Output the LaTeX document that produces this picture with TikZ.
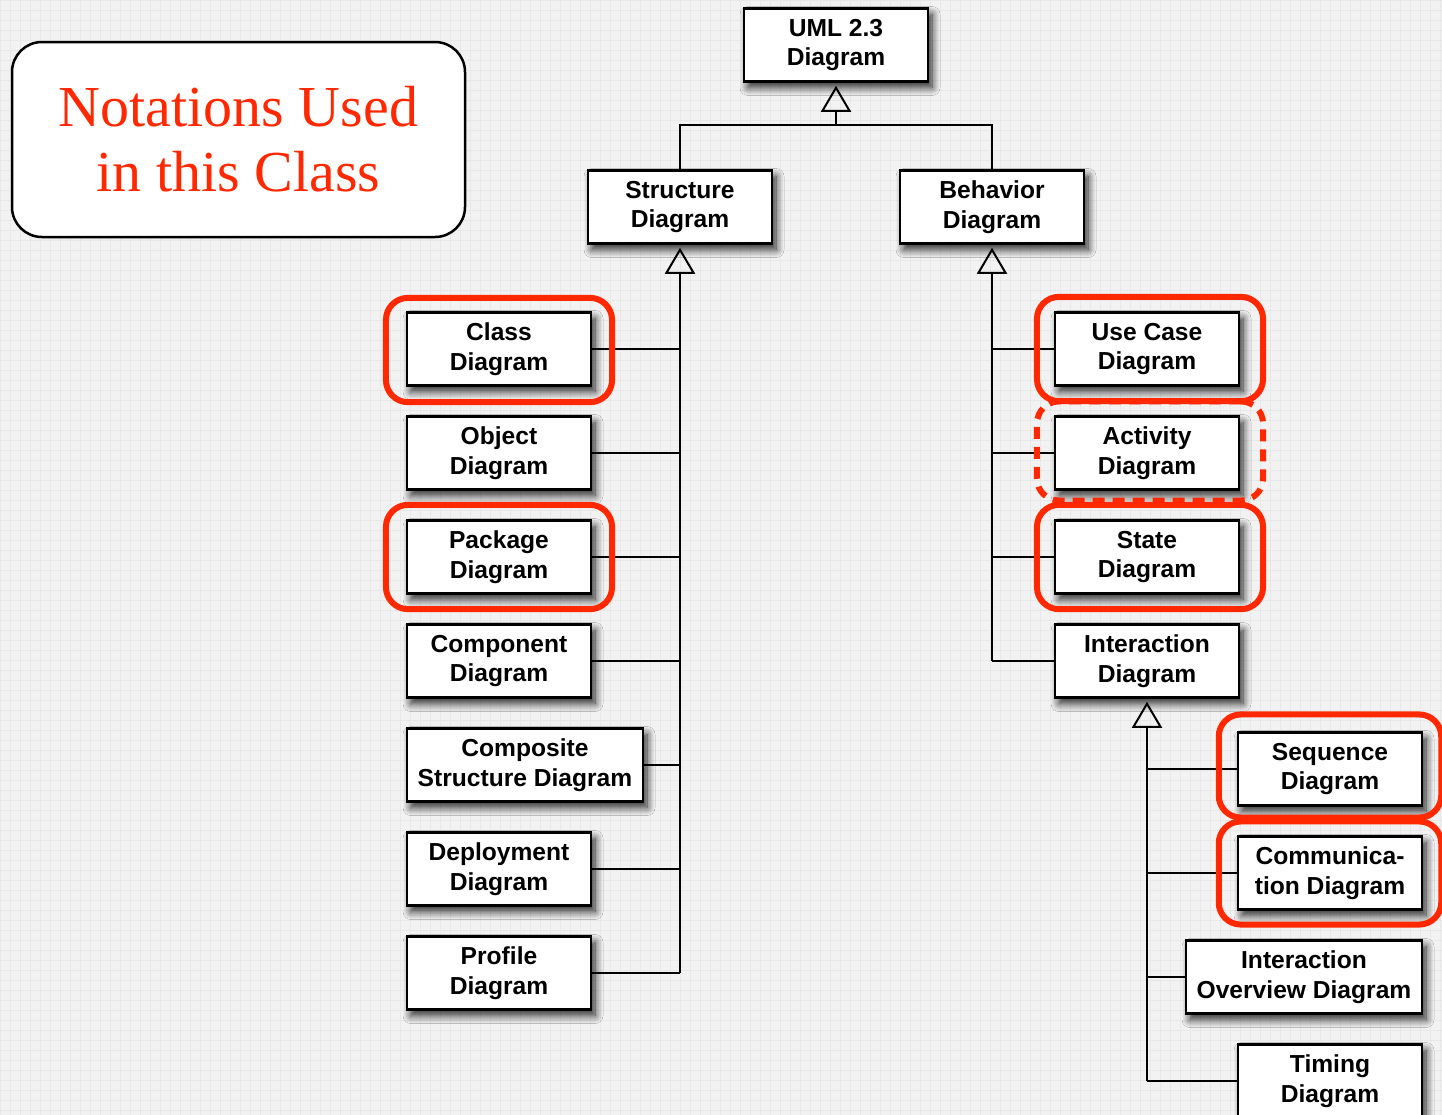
\documentclass[tikz,border=0pt]{standalone}
\usepackage{fontspec}
\setmainfont{Liberation Sans}
\newfontfamily\notefont{Liberation Serif}
\usetikzlibrary{arrows.meta,shadows.blur,fit}
\definecolor{hlred}{RGB}{255,40,0}
\definecolor{paper}{RGB}{242,242,242}
\definecolor{gridc}{RGB}{232,232,232}

\begin{document}
\begin{tikzpicture}[x=0.5pt,y=-0.5pt,
  diag/.style={draw=black, line width=1.25pt, fill=white,
    minimum width=92pt, minimum height=36.5pt, inner sep=0pt, align=center,
    font=\fontsize{12.3pt}{14.8pt}\bfseries\selectfont,
    blur shadow={shadow xshift=2pt, shadow yshift=-3pt,
      shadow blur radius=4pt, shadow blur steps=10, shadow opacity=85}},
  widediag/.style={diag, minimum width=118pt},
  trunk/.style={line width=1.25pt, shorten >=1.5pt,
    -{Triangle[open, width=15pt, length=13pt, line width=1pt]}},
  branch/.style={line width=0.9pt},
  joint/.style={line width=1pt},
  hl/.style={draw=hlred, line width=3pt, rounded corners=11pt, inner xsep=9.9pt},
  hldash/.style={hl, dash pattern=on 6pt off 4pt}
]
% paper with a faint grid
\useasboundingbox (0,0) rectangle (1442,1115);
\clip (0,0) rectangle (1442,1115);
\fill[paper] (0,0) rectangle (1442,1115);
\foreach \gx in {0,10,...,1440} \draw[gridc, line width=0.35pt] (\gx,0) -- (\gx,1115);
\foreach \gy in {0,10,...,1110} \draw[gridc, line width=0.35pt] (0,\gy) -- (1442,\gy);

% legend box
\node[draw=black, line width=1.25pt, rounded corners=15pt, fill=white,
  minimum width=226.5pt, minimum height=97.5pt, inner sep=0pt, align=center,
  text=hlred, font=\notefont\fontsize{29pt}{32.5pt}\selectfont]
  (note) at (238.5,139.5) {Notations Used\\in this Class};

% top levels
\node[diag] (uml) at (836,45) {UML 2.3\\Diagram};
\node[diag] (sd) at (680,207) {Structure\\Diagram};
\node[diag] (bd) at (992,207) {Behavior\\Diagram};

% structure diagrams
\node[diag] (cls) at (499,349) {Class\\Diagram};
\node[diag] (obj) at (499,453) {Object\\Diagram};
\node[diag] (pkg) at (499,557) {Package\\Diagram};
\node[diag] (cmp) at (499,661) {Component\\Diagram};
\node[widediag] (cps) at (525,765) {Composite\\Structure Diagram};
\node[diag] (dep) at (499,869) {Deployment\\Diagram};
\node[diag] (prof) at (499,973) {Profile\\Diagram};

% behavior diagrams
\node[diag] (uc) at (1147,349) {Use Case\\Diagram};
\node[diag] (act) at (1147,453) {Activity\\Diagram};
\node[diag] (st) at (1147,557) {State\\Diagram};
\node[diag] (id) at (1147,661) {Interaction\\Diagram};

% interaction diagrams
\node[diag] (seq) at (1330,769) {Sequence\\Diagram};
\node[diag] (comm) at (1330,873) {Communica-\\tion Diagram};
\node[widediag] (iod) at (1304,977) {Interaction\\Overview Diagram};
\node[diag] (tim) at (1330,1081) {Timing\\Diagram};

% generalisation to the root
\path (uml.south) ++(0,42) coordinate (j);
\draw[joint] (sd.north) |- (j) -| (bd.north);
\draw[trunk] (j) -- (uml.south);

% structure tree
\draw[trunk] (prof.east -| sd.south) -- (sd.south);
\foreach \n in {cls,obj,pkg,cmp,cps,dep,prof}
  \draw[branch] (\n.east) -- (\n.east -| sd.south);

% behavior tree
\draw[trunk] (id.west -| bd.south) -- (bd.south);
\foreach \n in {uc,act,st,id}
  \draw[branch] (\n.west) -- (\n.west -| bd.south);

% interaction tree
\draw[trunk] (tim.west -| id.south) -- (id.south);
\foreach \n in {seq,comm,iod,tim}
  \draw[branch] (\n.west) -- (\n.west -| id.south);

% red markings
\node[hl, fit=(cls), inner ysep=7.2pt, yshift=-0.5pt] {};
\node[hl, fit=(pkg), inner ysep=7.2pt] {};
\node[hl, fit=(uc), inner ysep=7.2pt, xshift=1.5pt] {};
\node[hl, fit=(st), inner ysep=7.2pt, xshift=1.5pt] {};
\node[hldash, fit=(act), inner ysep=5.9pt, xshift=1.5pt, yshift=1pt] {};
\node[hl, fit=(seq), inner xsep=9pt, inner ysep=6.9pt, yshift=1.5pt] {};
\node[hl, fit=(comm), inner xsep=9pt, inner ysep=6.9pt] {};
\end{tikzpicture}
\end{document}
